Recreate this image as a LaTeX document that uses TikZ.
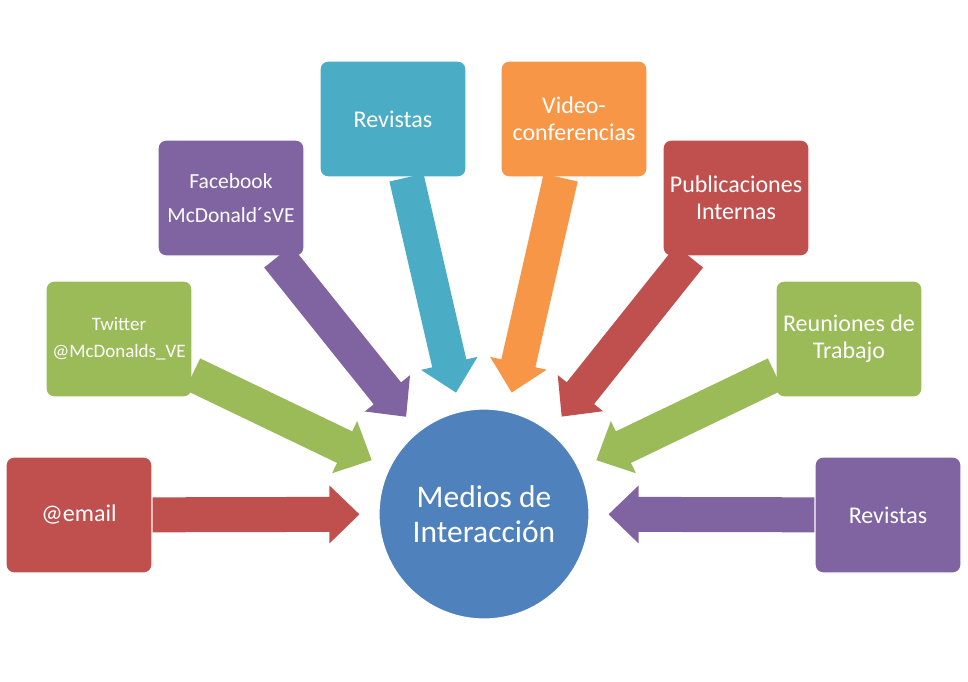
\documentclass[tikz,border=0pt]{standalone}
\usepackage{fontspec}
\setmainfont{Carlito}
\usetikzlibrary{calc}
\definecolor{rojo}{HTML}{C0504D}
\definecolor{verde}{HTML}{9BBB59}
\definecolor{morado}{HTML}{8064A2}
\definecolor{celeste}{HTML}{4BACC6}
\definecolor{naranja}{HTML}{F79646}
\definecolor{azul}{HTML}{4F81BD}

% block arrow from a box towards the hub: #1 box, #2 hub, #3 colour
\newcommand{\flecha}[3]{%
  \path (#1) -- (#2) coordinate[pos=0] (s) coordinate[pos=1] (e);
  \coordinate (t) at ($(e)!19pt!(s)$);
  \coordinate (h) at ($(t)!30pt!(s)$);
  \fill[#3] ($(s)!17.5pt!90:(t)$) -- ($(h)!17.5pt!90:(t)$) -- ($(h)!29pt!90:(t)$)
    -- (t) -- ($(h)!29pt!-90:(t)$) -- ($(h)!17.5pt!-90:(t)$) -- ($(s)!17.5pt!-90:(t)$) -- cycle;
}

\begin{document}
\begin{tikzpicture}[
  x=1pt, y=-1pt,
  caja/.style={rectangle, rounded corners=8pt, draw=white, line width=1.2pt, fill=#1,
               minimum width=146pt, minimum height=116pt, inner sep=1pt,
               text=white, align=center, font=\fontsize{24}{27}\selectfont},
  centro/.style={circle, draw=white, line width=1.2pt, fill=azul, minimum size=210pt,
                 text=white, align=center, font=\fontsize{31.5}{35}\selectfont},
]
  \useasboundingbox (0,0) rectangle (968,681);

  \node[centro] (hub) at (484,514) {Medios de\\Interacción};

  \node[caja=rojo] (mail) at (79,515) {@email};
  \node[caja=verde, font=\fontsize{19}{27}\selectfont] (tw) at (119,339) {Twitter\\@McDonalds\_VE};
  \node[caja=morado, font=\fontsize{21.5}{34}\selectfont] (fb) at (231,198) {Facebook\\McDonald´sVE};
  \node[caja=celeste] (rev) at (393,119) {Revistas};
  \node[caja=naranja] (video) at (574,119) {Video-\\conferencias};
  \node[caja=rojo] (pub) at (736,198) {Publicaciones\\Internas};
  \node[caja=verde] (reu) at (849,339) {Reuniones de\\Trabajo};
  \node[caja=morado] (rev2) at (888,515) {Revistas};

  \flecha{mail}{hub}{rojo}
  \flecha{tw}{hub}{verde}
  \flecha{fb}{hub}{morado}
  \flecha{rev}{hub}{celeste}
  \flecha{video}{hub}{naranja}
  \flecha{pub}{hub}{rojo}
  \flecha{reu}{hub}{verde}
  \flecha{rev2}{hub}{morado}
\end{tikzpicture}
\end{document}
